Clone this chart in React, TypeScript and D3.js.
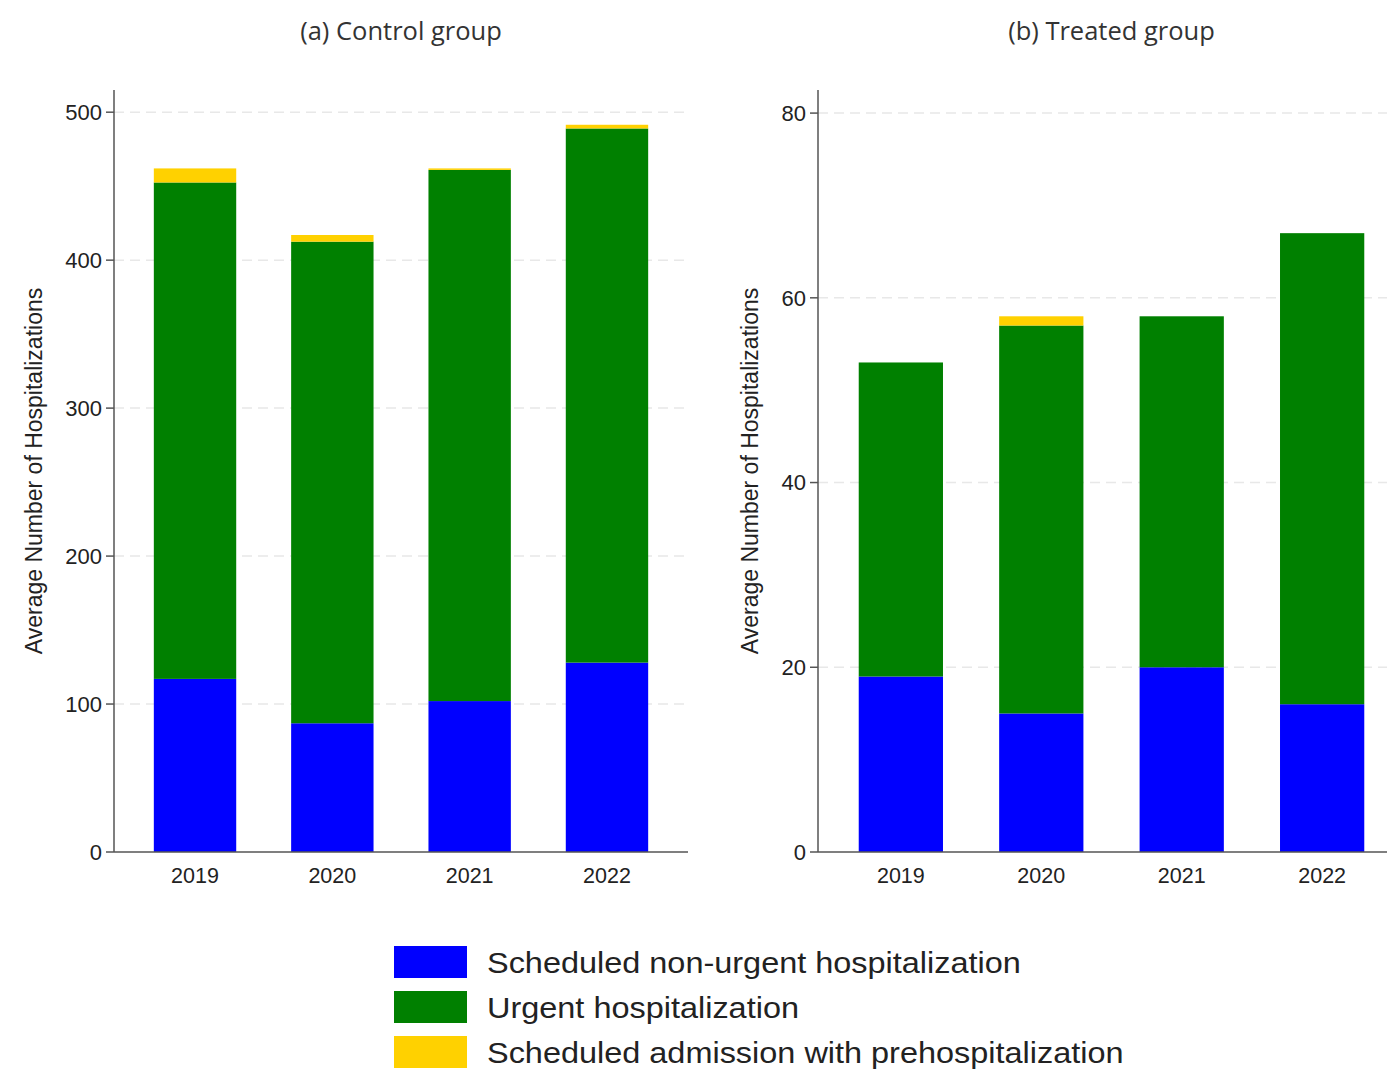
import React from "react";
import * as d3 from "d3";

// Years on the x axis
const years = ["2019", "2020", "2021", "2022"];

// Control group, average hospitalizations by type
const controlScheduled = [117, 87, 102, 128];
const controlUrgent = [335.5, 325.5, 359, 361];
const controlPrehosp = [9.5, 4.5, 1, 2.5];

// Treated group, average hospitalizations by type
const treatedScheduled = [19, 15, 20, 16];
const treatedUrgent = [34, 42, 38, 51];
const treatedPrehosp = [0, 1, 0, 0];

const controlTicks = [0, 100, 200, 300, 400, 500];
const treatedTicks = [0, 20, 40, 60, 80];

const seriesKeys = ["scheduled", "urgent", "prehosp"];
const seriesLabels = [
  "Scheduled non-urgent hospitalization",
  "Urgent hospitalization",
  "Scheduled admission with prehospitalization",
];
const seriesColors = ["#0000ff", "#008000", "#ffd100"];

const W = 1387;
const H = 1069;
const TOP = 90;
const BOTTOM = 852;
const SANS = "'Liberation Sans', Arial, sans-serif";

type Panel = {
  title: string;
  x0: number;
  x1: number;
  yMax: number;
  axisTitleX: number;
  ticks: number[];
  scheduled: number[];
  urgent: number[];
  prehosp: number[];
};

const panels: Panel[] = [
  {
    title: "(a) Control group",
    x0: 114,
    x1: 688,
    yMax: 515,
    axisTitleX: 42,
    ticks: controlTicks,
    scheduled: controlScheduled,
    urgent: controlUrgent,
    prehosp: controlPrehosp,
  },
  {
    title: "(b) Treated group",
    x0: 818,
    x1: 1405,
    yMax: 82.5,
    axisTitleX: 758,
    ticks: treatedTicks,
    scheduled: treatedScheduled,
    urgent: treatedUrgent,
    prehosp: treatedPrehosp,
  },
];

function BarPanel({ p }: { p: Panel }) {
  const x = d3
    .scaleBand<string>()
    .domain(years)
    .range([p.x0, p.x1])
    .paddingInner(0.4)
    .paddingOuter(0.29);
  const y = d3.scaleLinear().domain([0, p.yMax]).range([BOTTOM, TOP]);

  const rows = years.map((yr, i) => ({
    year: yr,
    scheduled: p.scheduled[i],
    urgent: p.urgent[i],
    prehosp: p.prehosp[i],
  }));
  const stacked = d3.stack<any>().keys(seriesKeys)(rows);
  const midX = (p.x0 + p.x1) / 2;
  const midY = (TOP + BOTTOM) / 2;

  return (
    <g>
      <text
        x={midX}
        y={40}
        textAnchor="middle"
        fontFamily="'Open Sans', sans-serif"
        fontSize={25.5}
        fill="#333"
      >
        {p.title}
      </text>

      {/* horizontal dashed gridlines */}
      {p.ticks
        .filter((t) => t > 0)
        .map((t) => (
          <line
            key={"g" + t}
            x1={p.x0}
            x2={p.x1}
            y1={y(t)}
            y2={y(t)}
            stroke="#e8e8e8"
            strokeWidth={1.5}
            strokeDasharray="10,6"
          />
        ))}

      {/* stacked bars */}
      {stacked.map((s, si) =>
        s.map((d, i) =>
          d[1] - d[0] > 0 ? (
            <rect
              key={si + "-" + i}
              x={x(years[i])}
              width={x.bandwidth()}
              y={y(d[1])}
              height={y(d[0]) - y(d[1])}
              fill={seriesColors[si]}
            />
          ) : null
        )
      )}

      {/* y axis */}
      <line x1={p.x0} x2={p.x0} y1={TOP} y2={BOTTOM} stroke="#555" strokeWidth={1.5} />
      {p.ticks.map((t) => (
        <g key={"t" + t}>
          <line x1={p.x0 - 8} x2={p.x0} y1={y(t)} y2={y(t)} stroke="#555" strokeWidth={1.5} />
          <text
            x={p.x0 - 12}
            y={y(t)}
            dy="0.35em"
            textAnchor="end"
            fontFamily={SANS}
            fontSize={22}
            fill="#222"
          >
            {t}
          </text>
        </g>
      ))}

      {/* x axis */}
      <line x1={p.x0} x2={p.x1} y1={BOTTOM} y2={BOTTOM} stroke="#555" strokeWidth={1.5} />
      {years.map((yr) => (
        <text
          key={"x" + yr}
          x={(x(yr) as number) + x.bandwidth() / 2}
          y={883}
          textAnchor="middle"
          fontFamily={SANS}
          fontSize={21.5}
          fill="#222"
        >
          {yr}
        </text>
      ))}

      <text
        transform={`translate(${p.axisTitleX},${midY}) rotate(-90)`}
        textAnchor="middle"
        fontFamily={SANS}
        fontSize={23}
        fill="#222"
      >
        Average Number of Hospitalizations
      </text>
    </g>
  );
}

export default function App() {
  return (
    <svg
      width={W}
      height={H}
      viewBox={`0 0 ${W} ${H}`}
      style={{ position: "absolute", left: 0, top: 0, background: "#fff" }}
    >
      <rect x={0} y={0} width={W} height={H} fill="#fff" />
      {panels.map((p) => (
        <BarPanel key={p.title} p={p} />
      ))}

      {/* legend */}
      {seriesLabels.map((lab, i) => (
        <g key={lab} transform={`translate(394,${946 + i * 45})`}>
          <rect x={0} y={0} width={73} height={32} fill={seriesColors[i]} />
          <text
            transform="translate(93,27) scale(1.1,1)"
            fontFamily={SANS}
            fontSize={29.5}
            fill="#222"
          >
            {lab}
          </text>
        </g>
      ))}
    </svg>
  );
}
